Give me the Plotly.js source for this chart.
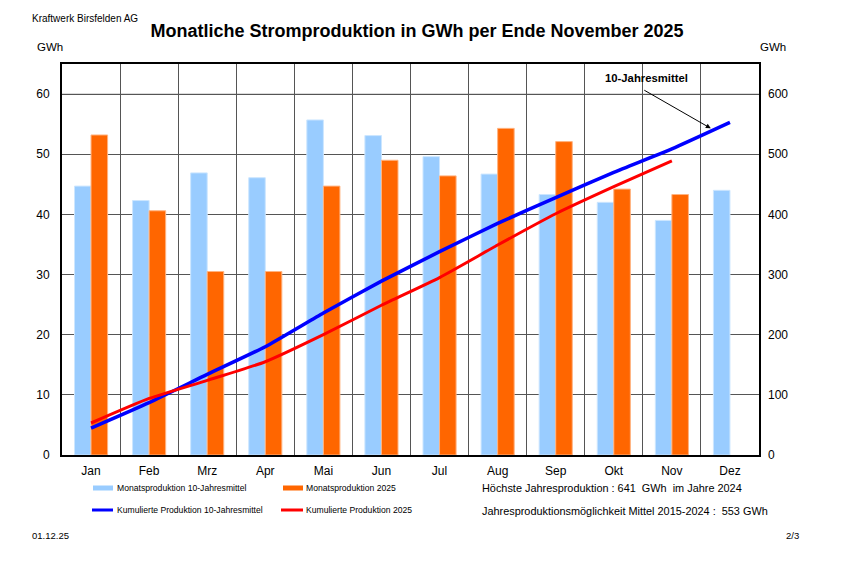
<!DOCTYPE html>
<html>
<head>
<meta charset="utf-8">
<script src="https://cdn.plot.ly/plotly-3.0.1.min.js"></script>
<style>html,body{margin:0;padding:0;background:#fff}</style>
</head>
<body>
<div id="chart" style="width:842px;height:561px"></div>
<script>
const months = ["Jan","Feb","Mrz","Apr","Mai","Jun","Jul","Aug","Sep","Okt","Nov","Dez"];
const monthlyMean = [44.7, 42.3, 46.9, 46.1, 55.7, 53.1, 49.6, 46.7, 43.3, 42.0, 39.0, 44.0];
const monthly2025 = [53.2, 40.6, 30.5, 30.5, 44.7, 49.0, 46.4, 54.3, 52.1, 44.2, 43.3];
const cumMean = [44.7, 87, 134, 180, 236, 289, 338, 385, 428, 470, 509, 553];
const cum2025 = [53.2, 94, 124, 155, 200, 249, 295, 349, 401, 446, 489];
const leftTicks = [0,10,20,30,40,50,60];
const rightTicks = [0,100,200,300,400,500,600];

const names = ["Monatsproduktion 10-Jahresmittel","Monatsproduktion 2025","Kumulierte Produktion 10-Jahresmittel","Kumulierte Produktion 2025"];
const FONT = "Liberation Sans, Arial, sans-serif";

// pixel helpers for paper coords
const PL=62, PR=759, PT=64, PB=455;
const px = x => (x-PL)/(PR-PL);
const py = y => (PB-y)/(PB-PT);

const traces = [
  {type:"bar", x:months, y:monthlyMean, name:names[0], marker:{color:"#99ccff", line:{color:"#cce6ff", width:1}}, showlegend:false, hoverinfo:"skip"},
  {type:"bar", x:months.slice(0,monthly2025.length), y:monthly2025, name:names[1], marker:{color:"#ff6600", line:{color:"#ffb380", width:1}}, showlegend:false, hoverinfo:"skip"},
  {type:"scatter", mode:"lines", x:months, y:cumMean, yaxis:"y2", name:names[2], line:{color:"#0000ff", width:3.5, shape:"spline", smoothing:0.5}, showlegend:false},
  {type:"scatter", mode:"lines", x:months.slice(0,cum2025.length), y:cum2025, yaxis:"y2", name:names[3], line:{color:"#ff0000", width:3, shape:"spline", smoothing:0.5}, showlegend:false}
];

const shapes = [
  {type:"line", xref:"paper", yref:"paper", x0:px(93), x1:px(113), y0:py(488), y1:py(488), line:{color:"#99ccff", width:5}},
  {type:"line", xref:"paper", yref:"paper", x0:px(283), x1:px(303), y0:py(488), y1:py(488), line:{color:"#ff6600", width:5}},
  {type:"line", xref:"paper", yref:"paper", x0:px(92), x1:px(113), y0:py(510), y1:py(510), line:{color:"#0000ff", width:3}},
  {type:"line", xref:"paper", yref:"paper", x0:px(281), x1:px(303), y0:py(510), y1:py(510), line:{color:"#ff0000", width:3}},
  {type:"line", xref:"paper", yref:"y", x0:0, x1:1, y0:60, y1:60, layer:"below", line:{color:"#aaaaaa", width:1}}
];

const ann = (x,y,text,size,opts={}) => Object.assign({xref:"paper", yref:"paper", x:px(x), y:py(y), text:text, showarrow:false, xanchor:"left", yanchor:"middle", font:{family:FONT, size:size, color:"#000"}}, opts);

const annotations = [
  ann(30,19,"Kraftwerk Birsfelden AG",10),
  ann(35,47,"GWh",11.5),
  ann(758,47,"GWh",11.5),
  ann(115,488,names[0],8.6),
  ann(304,488,names[1],8.6),
  ann(115,510,names[2],8.6),
  ann(304,510,names[3],8.6),
  ann(480,488,"Höchste Jahresproduktion : 641 \u00a0GWh \u00a0im Jahre 2024",10.9),
  ann(480,511,"Jahresproduktionsmöglichkeit Mittel 2015-2024 : \u00a0553 GWh",10.9),
  ann(30,535,"01.12.25",9.5),
  ann(801,535,"2/3",9.5,{xanchor:"right"}),
  ann(646,78,"<b>10-Jahresmittel</b>",11.3,{xanchor:"center"}),
  {xref:"x", yref:"y2", x:10.67, y:543, ax:-68, ay:-39, text:"", showarrow:true, arrowhead:2, arrowsize:1, arrowwidth:1, arrowcolor:"#000", standoff:0}
];

const layout = {
  width:842, height:561,
  margin:{l:PL, r:842-PR, t:PT, b:561-PB, pad:0},
  paper_bgcolor:"#fff", plot_bgcolor:"#fff",
  font:{family:FONT, size:12, color:"#000"},
  title:{text:"<b>Monatliche Stromproduktion in GWh per Ende November 2025</b>", font:{family:FONT, size:18, color:"#000"}, x:417/842, xanchor:"center", xref:"container", y:1-31/561, yanchor:"middle", yref:"container"},
  barmode:"group", bargap:0.43, bargroupgap:0,
  xaxis:{type:"category", categoryarray:months, tickson:"boundaries", showgrid:true, gridcolor:"#555", gridwidth:1, ticks:"", showline:true, linecolor:"#000", linewidth:2, mirror:true, tickfont:{size:12}, ticklabelstandoff:4, range:[-0.5,11.5], fixedrange:true},
  yaxis:{range:[0,65], tickvals:leftTicks, ticktext:leftTicks.map(String), showgrid:true, gridcolor:"#555", gridwidth:1, zeroline:false, ticks:"", showline:true, linecolor:"#000", linewidth:2, mirror:true, tickfont:{size:12}, ticklabelstandoff:8},
  yaxis2:{overlaying:"y", side:"right", range:[0,650], tickvals:rightTicks, ticktext:rightTicks.map(String), showgrid:false, zeroline:false, ticks:"", showline:false, tickfont:{size:12}, ticklabelstandoff:8},
  shapes:shapes,
  annotations:annotations,
  showlegend:false
};

Plotly.newPlot("chart", traces, layout, {staticPlot:true, displayModeBar:false});
</script>
</body>
</html>
